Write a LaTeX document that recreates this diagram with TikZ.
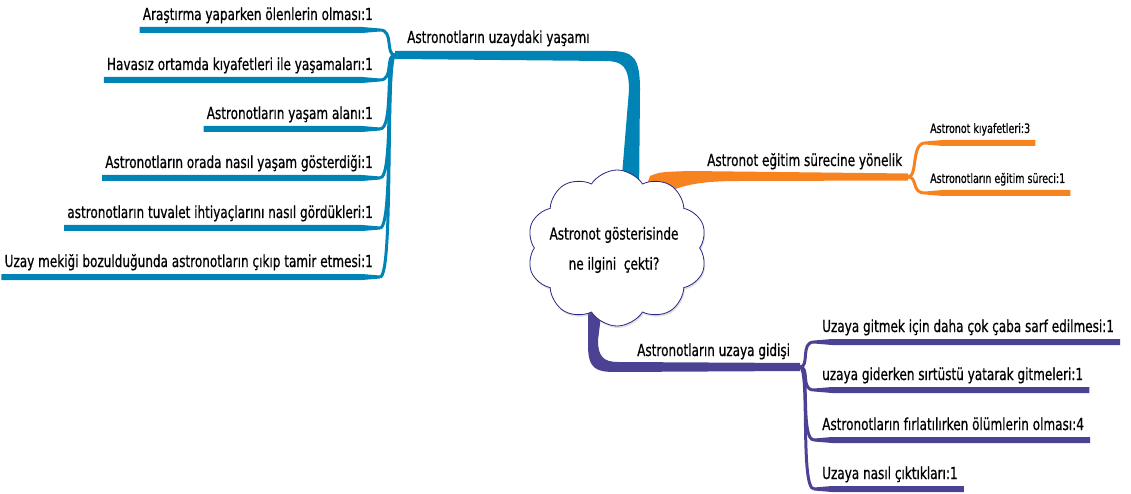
\documentclass[tikz,border=0pt]{standalone}
\usepackage{fontspec}
\setmainfont{DejaVu Sans}[FakeStretch=0.73,FakeBold=0.7]
\usetikzlibrary{shapes.symbols,calc,shadows}

\definecolor{lifeblue}{RGB}{0,132,182}
\definecolor{trainorange}{RGB}{247,130,32}
\definecolor{tripviolet}{RGB}{76,66,148}
\definecolor{cloudline}{RGB}{40,40,130}

\pgfdeclarelayer{branches}
\pgfsetlayers{branches,main}

\tikzset{
  lbl/.style={font=\fontsize{16.5}{20}\selectfont, inner sep=0pt, text=black},
  sublbl/.style={font=\fontsize{13}{15}\selectfont, inner sep=0pt, text=black},
}

% #1 colour, #2 corner x, #3 line y, #4 far end coordinate, #5 junction, #6 side (-1 left, 1 right)
\newcommand\twig[6]{%
  \fill[#1] ($(#4)+(0,-3)$) -- ({#2+(#6)*18},#3-3) -- (#2,#3-1.5)
    -- (#2,#3+1.5) -- ({#2+(#6)*18},#3+3) -- ($(#4)+(0,3)$) -- cycle;
  \draw[#1, line width=3pt] (#2,#3) .. controls ({#2-(#6)*14},#3) and ($(#5)+({(#6)*10},0)$) .. (#5);
}

\begin{document}
\begin{tikzpicture}[x=1pt,y=-1pt]
\useasboundingbox (0,0) rectangle (1131,494);

% central cloud
\node[cloud, cloud puffs=10, cloud puff arc=115, cloud ignores aspect,
      minimum width=180pt, minimum height=156pt, inner sep=0pt,
      draw=cloudline, line width=0.8pt, fill=white,
      drop shadow={opacity=0.25, shadow xshift=1pt, shadow yshift=-2pt}] (root) at (617,248) {};
\node[lbl, align=center, font=\fontsize{16.5}{30}\selectfont] (question) at (614,250)
  {Astronot gösterisinde\\ne ilgini\ \ çekti?};

% junctions
\coordinate (jb) at (395,55);
\coordinate (jo) at (908,177);
\coordinate (jp) at (800,367);

% main branches
\begin{pgfonlayer}{branches}
  \fill[lifeblue] ($(root.north)+(22,30)$) -- (640,90)
    .. controls (640,58) and (634,51) .. (610,51) -- ($(jb)+(0,-4)$)
    -- ($(jb)+(0,4)$) -- (605,61) .. controls (622,61) and (629,66) .. (629,90)
    -- ($(root.north)+(3,30)$) -- cycle;
  \fill[trainorange] (645,190) -- (650,176) .. controls (660,172) .. (690,171)
    -- ($(jo)+(0,-3.5)$) -- ($(jo)+(0,3.5)$) -- (740,181)
    .. controls (700,181) and (680,185) .. (660,196) -- cycle;
  \fill[tripviolet] (588,300) -- (588,345) .. controls (588,368) and (595,372) .. (615,372)
    -- ($(jp)+(0,4)$) -- ($(jp)+(0,-4)$) -- (618,362)
    .. controls (603,362) and (598,356) .. (598,340) -- (603,300) -- cycle;
\end{pgfonlayer}

\node[lbl, anchor=base west] (life) at (407,43) {Astronotların uzaydaki yaşamı};
\node[lbl, anchor=base west] (train) at (707,166) {Astronot eğitim sürecine yönelik};
\node[lbl, anchor=base west] (trip) at (637,356) {Astronotların uzaya gidişi};

% life in space
\foreach \n/\y/\t in {
  1/30/{Araştırma yaparken ölenlerin olması:1},
  2/80/{Havasız ortamda kıyafetleri ile yaşamaları:1},
  3/129/{Astronotların yaşam alanı:1},
  4/178/{Astronotların orada nasıl yaşam gösterdiği:1},
  5/228/{astronotların tuvalet ihtiyaçlarını nasıl gördükleri:1},
  6/277/{Uzay mekiği bozulduğunda astronotların çıkıp tamir etmesi:1}}{
  \node[lbl, anchor=base east] (b\n) at (373,\y-10) {\t};
  \coordinate (b\n e) at ($(b\n.base west)+(-3,10)$);
  \begin{pgfonlayer}{branches}
    \twig{lifeblue}{380}{\y}{b\n e}{jb}{-1}
  \end{pgfonlayer}
}

% training
\foreach \n/\y/\t in {
  1/143/{Astronot kıyafetleri:3},
  2/193/{Astronotların eğitim süreci:1}}{
  \node[sublbl, anchor=base west] (o\n) at (930,\y-10) {\t};
  \coordinate (o\n e) at ($(o\n.base east)+(5,10)$);
  \begin{pgfonlayer}{branches}
    \twig{trainorange}{925}{\y}{o\n e}{jo}{1}
  \end{pgfonlayer}
}

% the trip to space
\foreach \n/\y/\t in {
  1/342/{Uzaya gitmek için daha çok çaba sarf edilmesi:1},
  2/390/{uzaya giderken sırtüstü yatarak gitmeleri:1},
  3/440/{Astronotların fırlatılırken ölümlerin olması:4},
  4/489/{Uzaya nasıl çıktıkları:1}}{
  \node[lbl, anchor=base west] (p\n) at (822,\y-10) {\t};
  \coordinate (p\n e) at ($(p\n.base east)+(6,10)$);
  \begin{pgfonlayer}{branches}
    \twig{tripviolet}{814}{\y}{p\n e}{jp}{1}
  \end{pgfonlayer}
}
\end{tikzpicture}
\end{document}
